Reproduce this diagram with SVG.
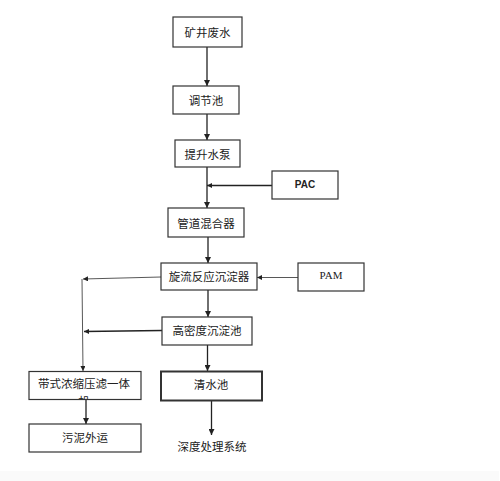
<svg xmlns="http://www.w3.org/2000/svg" width="500" height="481" viewBox="0 0 500 481">
<style>
.box{fill:#fff;stroke:#333;stroke-width:1.2}
.bold{stroke-width:2}
.t{font-family:"Noto Sans CJK SC","Liberation Sans",sans-serif;font-size:11.5px;fill:#222;text-anchor:middle;dominant-baseline:central}
.s{font-family:"Liberation Serif",serif;font-size:11px;fill:#222;text-anchor:middle;dominant-baseline:central}
.ln{stroke:#222;stroke-width:1.3;fill:none}
.thin{stroke:#444;stroke-width:0.9;fill:none}
</style>
<defs>
<marker id="a" viewBox="0 0 10 10" refX="10" refY="5" markerWidth="6" markerHeight="6" orient="auto" markerUnits="userSpaceOnUse"><path d="M0,0L10,5L0,10z" fill="#222"/></marker>
<marker id="b" viewBox="0 0 10 10" refX="10" refY="5" markerWidth="5" markerHeight="5" orient="auto" markerUnits="userSpaceOnUse"><path d="M0,0L10,5L0,10z" fill="#222"/></marker>
<clipPath id="cp"><rect x="29" y="371" width="112" height="28"/></clipPath>
</defs>
<rect x="0" y="471" width="499" height="10" fill="#fafafa"/>
<g id="connectors">
<path class="ln" d="M207,47V86" marker-end="url(#a)"/>
<path class="ln" d="M207,114V140" marker-end="url(#a)"/>
<path class="ln" d="M207,167V208" marker-end="url(#a)"/>
<path class="ln" d="M272,185.5H207" marker-end="url(#b)"/>
<path class="ln" d="M208,237V263" marker-end="url(#a)"/>
<path class="thin" d="M298,277.5H257" marker-end="url(#b)"/>
<path class="ln" d="M208,290V317" marker-end="url(#a)"/>
<path class="thin" d="M161,277L83,279" marker-end="url(#b)"/>
<path class="thin" d="M82,279L83,371" marker-end="url(#b)"/>
<path class="ln" d="M162,330.5L84,331.5" marker-end="url(#b)"/>
<path class="ln" d="M207.5,345V371" marker-end="url(#a)"/>
<path class="ln" d="M86,399V424" marker-end="url(#a)"/>
<path class="ln" d="M211.5,401V435" stroke-width="2" marker-end="url(#a)"/>
</g>
<g id="n1"><rect class="box" x="173" y="17" width="69" height="30"/><text class="t" x="207.5" y="32">矿井废水</text></g>
<g id="n2"><rect class="box" x="173" y="86" width="66" height="28"/><text class="t" x="206" y="100">调节池</text></g>
<g id="n3"><rect class="box" x="175" y="140" width="65" height="27"/><text class="t" x="207.5" y="153.5">提升水泵</text></g>
<g id="pac"><rect class="box" x="272" y="171" width="66" height="28"/><text class="s" x="305" y="184" style="font-family:'Liberation Sans',sans-serif;font-size:10px;font-weight:bold">PAC</text></g>
<g id="n4"><rect class="box" x="168" y="208" width="76" height="29"/><text class="t" x="206" y="222.5">管道混合器</text></g>
<g id="n5"><rect class="box" x="161" y="263" width="96" height="27"/><text class="t" x="209" y="275.5">旋流反应沉淀器</text></g>
<g id="pam"><rect class="box" x="298" y="263" width="66" height="28"/><text class="s" x="331" y="274.5">PAM</text></g>
<g id="n6"><rect class="box" x="162" y="317" width="90" height="28"/><text class="t" x="207" y="330">高密度沉淀池</text></g>
<g id="n7"><rect class="box" x="29" y="371.5" width="112" height="28"/><text class="t" x="84" y="383">带式浓缩压滤一体</text><text class="t" x="84" y="401" clip-path="url(#cp)">机</text></g>
<g id="n8"><rect class="box bold" x="161" y="371.5" width="101" height="29"/><text class="t" x="211" y="384">清水池</text></g>
<g id="n9"><rect class="box" x="29" y="424" width="112" height="28"/><text class="t" x="85" y="437">污泥外运</text></g>
<g id="n10"><text class="t" x="212" y="446">深度处理系统</text></g>
</svg>
